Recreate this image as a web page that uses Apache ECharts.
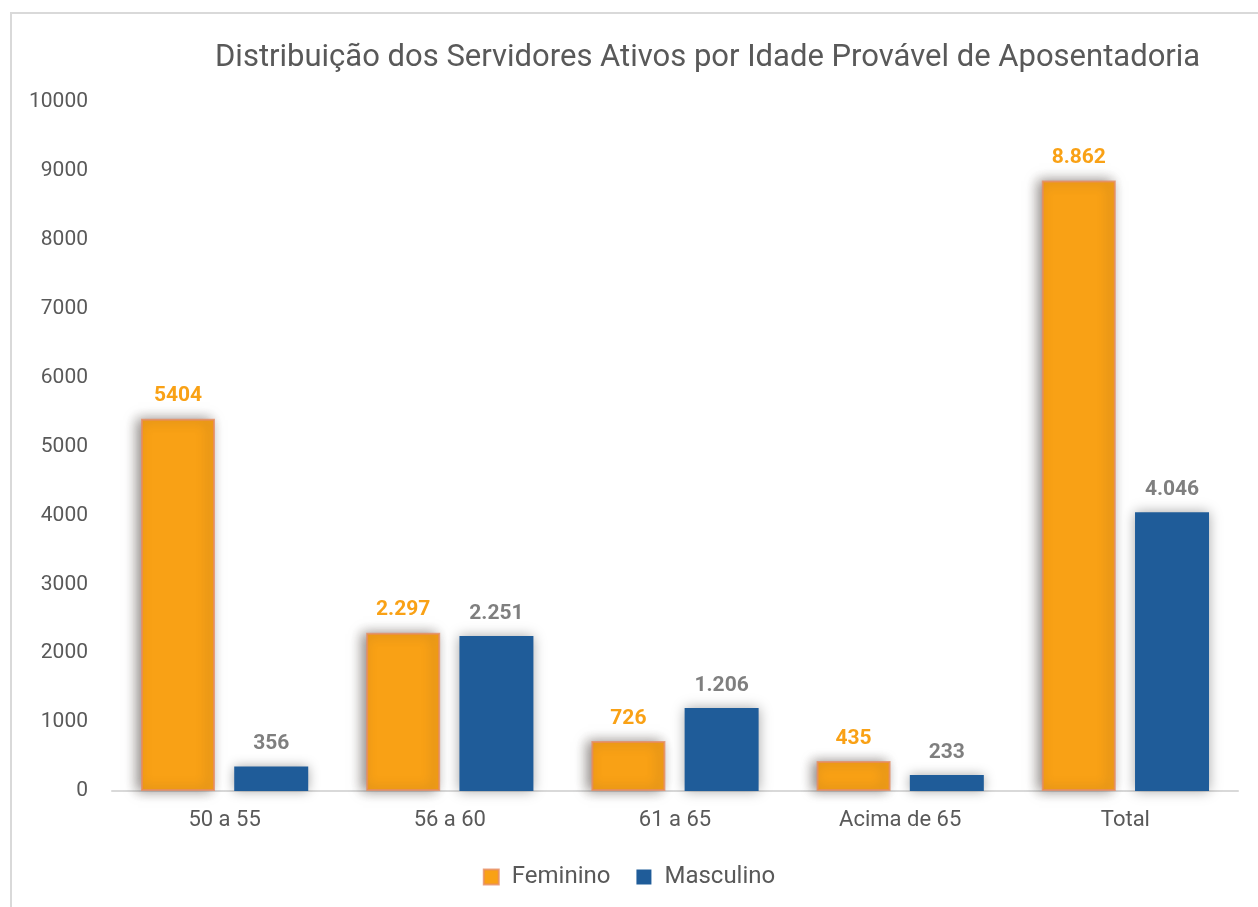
<!DOCTYPE html>
<html>
<head>
<meta charset="utf-8">
<script src="https://cdn.jsdelivr.net/npm/echarts@6/dist/echarts.min.js"></script>
<style>
  body { margin: 0; background: #fff; }
  #frame { position: absolute; left: 10px; top: 12px; width: 1300px; height: 1000px;
           border-left: 2px solid #d9d9d9; border-top: 2px solid #d9d9d9; pointer-events: none; }
  #chart { position: absolute; left: 0; top: 0; width: 1258px; height: 907px; }
</style>
</head>
<body>
<div id="chart"></div>
<div id="frame"></div>
<script>
// dados
const categorias = ['50 a 55', '56 a 60', '61 a 65', 'Acima de 65', 'Total']
const feminino = [5404, 2297, 726, 435, 8862]
const masculino = [356, 2251, 1206, 233, 4046]
// rótulos como aparecem no gráfico original
const rotulosFem = ['5404', '2.297', '726', '435', '8.862']
const rotulosMasc = ['356', '2.251', '1.206', '233', '4.046']

const fonte = 'Roboto, "Noto Sans", sans-serif'

const option = {
  animation: false,
  title: {
    text: 'Distribuição dos Servidores Ativos por Idade Provável de Aposentadoria',
    left: 210,
    top: 38,
    textStyle: { fontFamily: fonte, fontSize: 31, fontWeight: 'normal', color: '#595959' }
  },
  legend: {
    bottom: 13,
    left: 'center',
    itemWidth: 15,
    itemHeight: 15,
    itemGap: 26,
    icon: 'rect',
    textStyle: { fontFamily: fonte, fontSize: 24, color: '#595959', padding: [0, 0, 0, 8] }
  },
  grid: { left: 112, right: 20, top: 102, bottom: 116, containLabel: false },
  xAxis: {
    type: 'category',
    data: categorias,
    axisLine: { lineStyle: { color: '#d9d9d9', width: 2 } },
    axisTick: { show: false },
    axisLabel: { fontFamily: fonte, fontSize: 22, color: '#595959', margin: 18 }
  },
  yAxis: {
    type: 'value',
    min: 0,
    max: 10000,
    interval: 1000,
    splitLine: { show: false },
    axisLine: { show: false },
    axisLabel: { fontFamily: fonte, fontSize: 21, color: '#595959', margin: 24, formatter: v => String(v) }
  },
  series: [
    {
      name: 'Feminino',
      type: 'bar',
      data: feminino,
      barWidth: 74,
      barGap: '26%',
      itemStyle: {
        color: '#F9A115',
        borderColor: 'rgba(230,140,100,0.8)',
        borderWidth: 2,
        shadowColor: 'rgba(70,60,55,0.6)',
        shadowBlur: 12,
        shadowOffsetX: -4
      },
      label: {
        show: true,
        position: 'top',
        distance: 12,
        formatter: p => rotulosFem[p.dataIndex],
        fontFamily: fonte, fontSize: 21, fontWeight: 'bold', color: '#F9A115'
      }
    },
    {
      name: 'Masculino',
      type: 'bar',
      data: masculino,
      barWidth: 74,
      itemStyle: {
        color: '#1F5C99',
        shadowColor: 'rgba(0,0,0,0.35)',
        shadowBlur: 12
      },
      label: {
        show: true,
        position: 'top',
        distance: 12,
        formatter: p => rotulosMasc[p.dataIndex],
        fontFamily: fonte, fontSize: 21, fontWeight: 'bold', color: '#7f7f7f'
      }
    }
  ]
}

const chart = echarts.init(document.getElementById('chart'))
chart.setOption(option)
</script>
</body>
</html>
